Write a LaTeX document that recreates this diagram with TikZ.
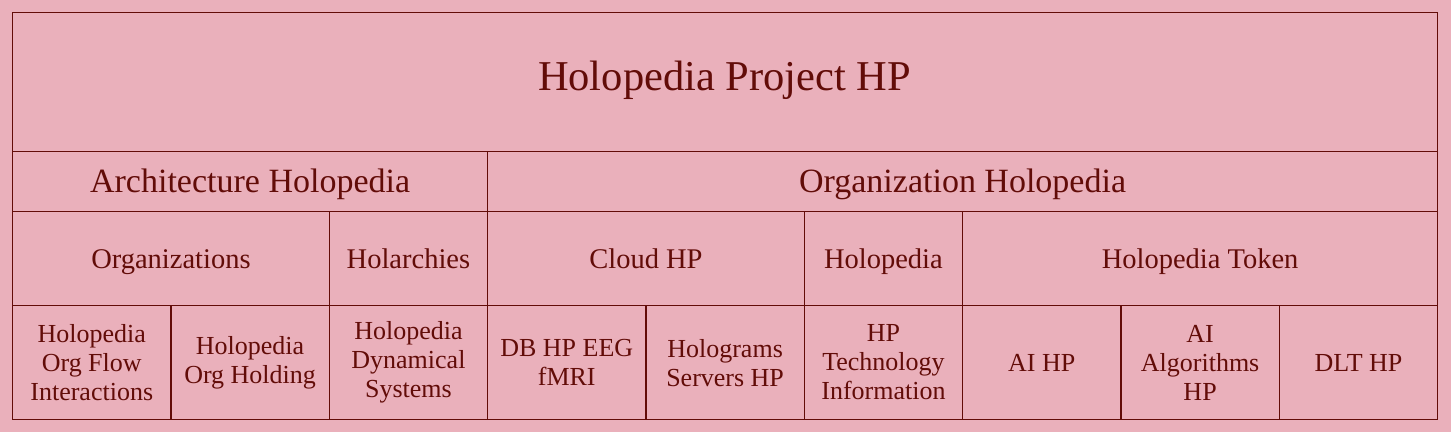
\documentclass[tikz,border=0pt]{standalone}
\usepackage{fontspec}
\setmainfont{Liberation Serif}
\definecolor{hpback}{RGB}{234,176,187}
\definecolor{hpline}{RGB}{98,12,8}

\begin{document}
\begin{tikzpicture}[x=1pt,y=-1pt,
		cell/.style={draw=hpline, line width=1.2pt, text=hpline, align=center,
				inner sep=0pt, anchor=north west},
		levelone/.style={font=\fontsize{42.5}{46}\selectfont, text height=28pt, text depth=0pt},
		leveltwo/.style={font=\fontsize{34}{37}\selectfont, text height=22.5pt, text depth=0pt},
		levelthree/.style={font=\fontsize{28.5}{31}\selectfont, text height=18.9pt, text depth=0pt},
		levelfour/.style={font=\fontsize{26}{29}\selectfont}]
		% Background and margins
		\fill[hpback] (0,0) rectangle (1451,432);
		\useasboundingbox (0,0) rectangle (1451,432);

		% Top row
		\node[cell, levelone, minimum width=1425pt, minimum height=139pt] (project) at (12,12) {};
		\node[levelone, text=hpline, inner sep=0pt] (projtxt) at (724.5,76) {Holopedia Project HP};

		% Second row
		\node[cell, leveltwo, minimum width={3*158.333pt}, minimum height=60pt] (arch) at (12,151) {Architecture Holopedia};
		\node[cell, leveltwo, minimum width={6*158.333pt}, minimum height=60pt] (orgholo) at ({12+3*158.333},151) {Organization Holopedia};

		% Third row
		\foreach \name/\c/\n/\txt in {orgs/0/2/Organizations, holarch/2/1/Holarchies,
				cloud/3/2/Cloud HP, holo/5/1/Holopedia, token/6/3/Holopedia Token} {
				\node[cell, levelthree, minimum width={\n*158.333pt}, minimum height=94pt] (\name) at ({12+\c*158.333},211) {\txt};
			}

		% Bottom row
		\foreach \name/\c/\txt in {flow/0/{Holopedia\\Org Flow\\Interactions}, holding/1/{Holopedia\\Org Holding},
				dynsys/2/{Holopedia\\Dynamical\\Systems}, dbeeg/3/{DB HP EEG\\fMRI}, holoserv/4/{Holograms\\Servers HP},
				hptech/5/{HP\\Technology\\Information}, aihp/6/{AI HP}, aialgo/7/{AI\\Algorithms\\HP}, dlt/8/{DLT HP}} {
				\node[cell, levelfour, minimum width=158.333pt, minimum height=114pt] (\name) at ({12+\c*158.333},305) {\txt};
			}
	\end{tikzpicture}
\end{document}
